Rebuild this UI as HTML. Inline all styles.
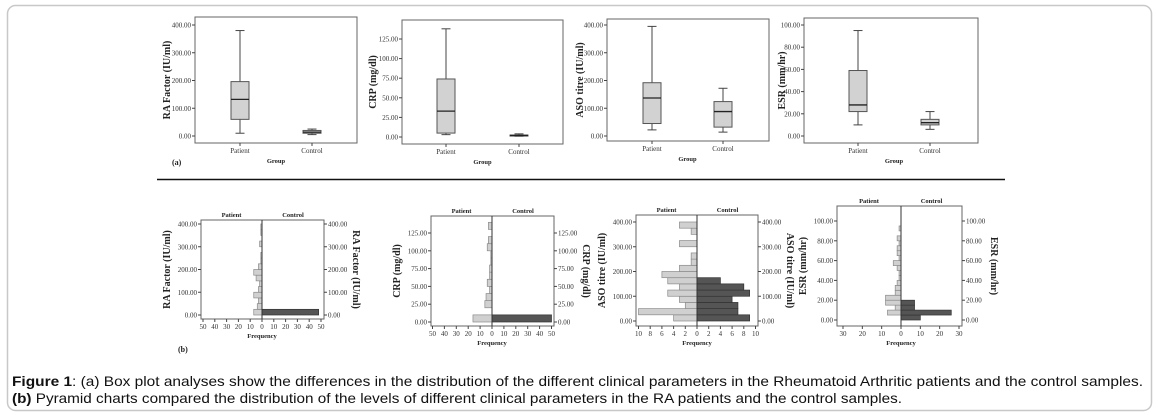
<!DOCTYPE html>
<html><head><meta charset="utf-8"><style>
html,body{margin:0;padding:0;background:#fff;}
svg{display:block;}
.tk{font-family:"Liberation Serif",serif;font-size:7px;fill:#333;}
.tt{font-family:"Liberation Serif",serif;font-size:10px;font-weight:bold;fill:#222;}
.sm{font-family:"Liberation Serif",serif;font-size:6.5px;font-weight:bold;fill:#222;}
.cap{font-family:"Liberation Sans",Arial,sans-serif;font-size:14px;fill:#111;}
</style></head><body>
<svg id="fig" width="1158" height="415" viewBox="0 0 1158 415" xmlns="http://www.w3.org/2000/svg">
<rect x="7.5" y="5.5" width="1144" height="405" rx="8" fill="#fff" stroke="#c8c8c8" stroke-width="1.5"/>
<line x1="157" y1="179.5" x2="1005" y2="179.5" stroke="#111" stroke-width="1.5"/>
<text class="sm" x="172" y="165" style="font-size:8px">(a)</text>
<text class="sm" x="178" y="352" style="font-size:8px">(b)</text>
<text class="cap" x="12" y="386" textLength="1131" lengthAdjust="spacingAndGlyphs"><tspan font-weight="bold">Figure 1</tspan>: (a) Box plot analyses show the differences in the distribution of the different clinical parameters in the Rheumatoid Arthritic patients and the control samples.</text>
<text class="cap" x="12" y="403" textLength="890" lengthAdjust="spacingAndGlyphs"><tspan font-weight="bold">(b)</tspan> Pyramid charts compared the distribution of the levels of different clinical parameters in the RA patients and the control samples.</text>
<g id="charts"></g>
</svg>
<script>
// ---- Box plot data: [min, q1, median, q3, max] ----
const boxGroups = ["Patient", "Control"];
const raBox = [[10, 60, 132, 196, 380], [5, 10, 14, 20, 25]];
const crpBox = [[3, 5, 33, 74, 138], [1, 1.5, 2, 2.5, 4]];
const asoBox = [[22, 45, 137, 192, 395], [14, 32, 88, 124, 172]];
const esrBox = [[10, 22, 28, 59, 95], [6, 10, 12, 15, 22]];
const raTicks = [0, 100, 200, 300, 400];
const crpTicks = [0, 25, 50, 75, 100, 125];
const asoTicks = [0, 100, 200, 300, 400];
const esrTicks = [0, 20, 40, 60, 80, 100];

// ---- Pyramid data (bin starts, patient counts, control counts) ----
const raBins = [0,25,50,75,100,125,150,175,200,225,250,275,300,325,350,375];
const raPatient = [7,4,3,7,3,2,5,7,3,1,1,0,2,0,1,1];
const raControl = [48,0,0,0,0,0,0,0,0,0,0,0,0,0,0,0];
const crpBins = [0,10,20,30,40,50,60,70,80,90,100,110,120,130];
const crpPatient = [16,0,6,5,2,4,2,2,1,1,4,3,0,3];
const crpControl = [50,0,0,0,0,0,0,0,0,0,0,0,0,0];
const asoBins = [0,25,50,75,100,125,150,175,200,225,250,275,300,325,350,375];
const asoPatient = [4,10,2,3,5,3,5,6,3,1,1,0,3,0,1,3];
const asoControl = [9,7,7,6,9,8,4,0,0,0,0,0,0,0,0,0];
const esrBins = [0,5,10,15,20,25,30,35,40,45,50,55,60,65,70,75,80,85,90];
const esrPatient = [0,7,3,8,8,3,3,2,1,1,2,4,1,2,2,1,2,0,1];
const esrControl = [10,26,7,7,0,0,0,0,0,0,0,0,0,0,0,0,0,0,0];
const freq50 = [50,40,30,20,10,0,10,20,30,40,50];
const freq10 = [10,8,6,4,2,0,2,4,6,8,10];
const freq30 = [30,20,10,0,10,20,30];

const NS = "http://www.w3.org/2000/svg";
const root = document.getElementById("charts");
function mk(tag, attrs, parent) {
  const e = document.createElementNS(NS, tag);
  for (const k in attrs) e.setAttribute(k, attrs[k]);
  (parent || root).appendChild(e);
  return e;
}
function txt(s, attrs, parent) { const t = mk("text", attrs, parent); t.textContent = s; return t; }

function boxPlot(cfg) {
  const g = mk("g", {});
  
  
  const y = v => cfg.y0 + (v - cfg.vmin) / (cfg.vmax - cfg.vmin) * (cfg.y1 - cfg.y0);
  const fr = mk("rect", {x: cfg.fx0, y: cfg.fy0, width: cfg.fx1 - cfg.fx0, height: cfg.fy1 - cfg.fy0, fill: "#fff", stroke: "#666", "stroke-width": 1}, g);
  
  
  cfg.ticks.forEach(t => {
    mk("line", {x1: cfg.fx0 - 3, x2: cfg.fx0, y1: y(t), y2: y(t), stroke: "#444"}, g);
    const l = txt(t.toFixed(2), {class: "tk", x: cfg.fx0 - 4, y: y(t) + 2.5, "text-anchor": "end"}, g);
    
    
  });
  const yt = txt(cfg.title, {class: "tt", transform: `translate(${cfg.tx},${(cfg.fy0 + cfg.fy1) / 2}) rotate(-90)`, "text-anchor": "middle"}, g);
  
  
  cfg.data.forEach((d, i) => {
    const cx = cfg.cx[i], w = cfg.bw;
    const bg = mk("g", {}, g);
    
    
    mk("line", {x1: cx, x2: cx, y1: y(d[0]), y2: y(d[4]), stroke: "#444"}, bg);
    mk("line", {x1: cx - w / 4, x2: cx + w / 4, y1: y(d[0]), y2: y(d[0]), stroke: "#444"}, bg);
    mk("line", {x1: cx - w / 4, x2: cx + w / 4, y1: y(d[4]), y2: y(d[4]), stroke: "#444"}, bg);
    mk("rect", {x: cx - w / 2, y: y(d[3]), width: w, height: Math.max(1, y(d[1]) - y(d[3])), fill: "#d2d2d2", stroke: "#555"}, bg);
    mk("line", {x1: cx - w / 2, x2: cx + w / 2, y1: y(d[2]), y2: y(d[2]), stroke: "#222", "stroke-width": 1.3}, bg);
    mk("line", {x1: cx, x2: cx, y1: cfg.fy1, y2: cfg.fy1 + 3, stroke: "#444"}, g);
    const gl = txt(boxGroups[i], {class: "tk", x: cx, y: cfg.fy1 + 10, "text-anchor": "middle"}, g);
    
    
  });
  const xt = txt("Group", {class: "sm", x: (cfg.cx[0] + cfg.cx[1]) / 2, y: cfg.fy1 + 20, "text-anchor": "middle"}, g);
  
  
}

boxPlot({name: "box-plot-ra-factor", data: raBox, ticks: raTicks, title: "RA Factor (IU/ml)", vmin: 0, vmax: 400, y0: 136, y1: 25, fx0: 195, fx1: 357, fy0: 17, fy1: 143, cx: [240, 312], bw: 18, tx: 170});
boxPlot({name: "box-plot-crp", data: crpBox, ticks: crpTicks, title: "CRP (mg/dl)", vmin: 0, vmax: 125, y0: 137, y1: 39, fx0: 402, fx1: 563, fy0: 20, fy1: 144, cx: [446, 519], bw: 18, tx: 376});
boxPlot({name: "box-plot-aso-titre", data: asoBox, ticks: asoTicks, title: "ASO titre (IU/ml)", vmin: 0, vmax: 400, y0: 136, y1: 25, fx0: 607, fx1: 769, fy0: 19, fy1: 141, cx: [652, 723], bw: 18, tx: 583});
boxPlot({name: "box-plot-esr", data: esrBox, ticks: esrTicks, title: "ESR (mm/hr)", vmin: 0, vmax: 100, y0: 136, y1: 25, fx0: 804, fx1: 978, fy0: 18, fy1: 143, cx: [858, 930], bw: 18, tx: 785});

function pyramid(cfg) {
  const g = mk("g", {});
  
  
  const y = v => cfg.y0 + (v - cfg.vmin) / (cfg.vmax - cfg.vmin) * (cfg.y1 - cfg.y0);
  const xs = f => f * cfg.xscale; // px per frequency unit
  const fr = mk("rect", {x: cfg.fx0, y: cfg.fy0, width: cfg.fx1 - cfg.fx0, height: cfg.fy1 - cfg.fy0, fill: "#fff", stroke: "#666"}, g);
  
  
  cfg.ticks.forEach(t => {
    mk("line", {x1: cfg.fx0 - 3, x2: cfg.fx0, y1: y(t), y2: y(t), stroke: "#444"}, g);
    mk("line", {x1: cfg.fx1, x2: cfg.fx1 + 3, y1: y(t), y2: y(t), stroke: "#444"}, g);
    const l = txt(t.toFixed(2), {class: "tk", x: cfg.fx0 - 4, y: y(t) + 2.5, "text-anchor": "end"}, g);
    
    
    const r = txt(t.toFixed(2), {class: "tk", x: cfg.fx1 + 4, y: y(t) + 2.5}, g);
    
    
  });
  cfg.bins.forEach((b, i) => {
    const top = y(b + cfg.bw), h = y(b) - y(b + cfg.bw);
    if (cfg.pat[i] > 0) {
      const r = mk("rect", {x: cfg.cx - xs(cfg.pat[i]), y: top, width: xs(cfg.pat[i]), height: h, fill: "#d0d0d0", stroke: "#8a8a8a", "stroke-width": 0.7}, g);
      
      
    }
    if (cfg.ctl[i] > 0) {
      const r = mk("rect", {x: cfg.cx, y: top, width: xs(cfg.ctl[i]), height: h, fill: "#555", stroke: "#333", "stroke-width": 0.7}, g);
      
      
    }
  });
  mk("line", {x1: cfg.cx, x2: cfg.cx, y1: cfg.fy0, y2: cfg.fy1, stroke: "#333"}, g);
  const n = cfg.fticks.length, half = (n - 1) / 2;
  cfg.fticks.forEach((f, i) => {
    const x = cfg.cx + (i < half ? -xs(f) : xs(f));
    mk("line", {x1: x, x2: x, y1: cfg.fy1, y2: cfg.fy1 + 3, stroke: "#444"}, g);
    const l = txt(String(f), {class: "tk", x: x, y: cfg.fy1 + 10, "text-anchor": "middle"}, g);
    
    
  });
  const ft = txt("Frequency", {class: "sm", x: cfg.cx, y: cfg.fy1 + 19, "text-anchor": "middle"}, g);
  
  
  const hp = txt("Patient", {class: "sm", x: (cfg.fx0 + cfg.cx) / 2, y: cfg.fy0 - 3, "text-anchor": "middle"}, g);
  
  
  const hc = txt("Control", {class: "sm", x: (cfg.fx1 + cfg.cx) / 2, y: cfg.fy0 - 3, "text-anchor": "middle"}, g);
  
  
  const mid = (cfg.fy0 + cfg.fy1) / 2;
  const lt = txt(cfg.title, {class: "tt", transform: `translate(${cfg.fx0 - 31},${mid}) rotate(-90)`, "text-anchor": "middle"}, g);
  
  
  const rt = txt(cfg.title, {class: "tt", transform: `translate(${cfg.fx1 + 29},${mid}) rotate(90)`, "text-anchor": "middle"}, g);
  
  
}

pyramid({name: "pyramid-ra-factor", bins: raBins, pat: raPatient, ctl: raControl, bw: 25, ticks: raTicks, fticks: freq50, title: "RA Factor (IU/ml)", vmin: 0, vmax: 400, y0: 315, y1: 224, fx0: 201, fx1: 324, fy0: 220, fy1: 319, cx: 262, xscale: 59 / 50});
pyramid({name: "pyramid-crp", bins: crpBins, pat: crpPatient, ctl: crpControl, bw: 10, ticks: crpTicks, fticks: freq50, title: "CRP (mg/dl)", vmin: 0, vmax: 125, y0: 322, y1: 233, fx0: 431, fx1: 554, fy0: 216, fy1: 326, cx: 492, xscale: 59.5 / 50});
pyramid({name: "pyramid-aso-titre", bins: asoBins, pat: asoPatient, ctl: asoControl, bw: 25, ticks: asoTicks, fticks: freq10, title: "ASO titre (IU/ml)", vmin: 0, vmax: 400, y0: 321, y1: 222, fx0: 636, fx1: 758, fy0: 215, fy1: 326, cx: 697, xscale: 58.5 / 10});
pyramid({name: "pyramid-esr", bins: esrBins, pat: esrPatient, ctl: esrControl, bw: 5, ticks: esrTicks, fticks: freq30, title: "ESR (mm/hr)", vmin: 0, vmax: 100, y0: 320, y1: 221, fx0: 837, fx1: 962, fy0: 206, fy1: 326, cx: 901, xscale: 58 / 30});
</script>
</body></html>
